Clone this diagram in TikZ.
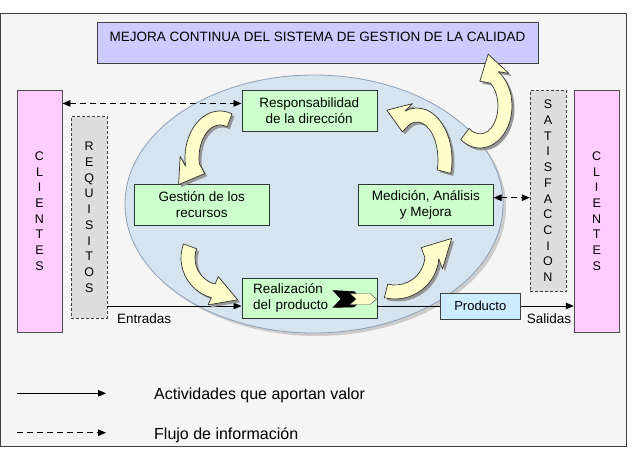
\documentclass[tikz,border=0pt]{standalone}
\usepackage{fontspec}
\setmainfont{Liberation Sans}
\usetikzlibrary{arrows.meta,calc,positioning}

\definecolor{bgcol}{RGB}{245,245,245}
\definecolor{lavcol}{RGB}{204,204,255}
\definecolor{pinkcol}{RGB}{255,204,255}
\definecolor{greencol}{RGB}{204,255,204}
\definecolor{bluecol}{RGB}{204,236,255}
\definecolor{ellcol}{RGB}{214,228,240}
\definecolor{ellline}{RGB}{140,160,185}
\definecolor{yelcol}{RGB}{255,255,204}
\definecolor{reqcol}{RGB}{221,221,221}
\definecolor{shadowcol}{RGB}{150,150,150}

\newcommand{\boxfont}{\fontsize{13.5}{16}\selectfont}
\newcommand{\letterfont}{\fontsize{12.5}{15.7}\selectfont}

% curved block arrow: centre, rx, ry, from angle, to angle, head angle, head length
\newcommand{\bendarrow}[7]{%
  \pgfmathsetmacro{\bendsg}{(#5>#4)?1:-1}%
  \pgfmathsetmacro{\bendba}{#6-\bendsg*90}%
  \pgfmathsetmacro{\bendbb}{#6+\bendsg*90}%
  \pgfmathsetmacro{\bendxo}{#2+7}\pgfmathsetmacro{\bendyo}{#3+7}%
  \pgfmathsetmacro{\bendxi}{#2-7}\pgfmathsetmacro{\bendyi}{#3-7}%
  \def\bendpath{($(#1)+(#4:{\bendxo} and {\bendyo})$)
    arc[start angle=#4, end angle=#5, x radius=\bendxo, y radius=\bendyo]
    -- ($(#1)+(#5:#2 and #3)+(\bendba:15)$)
    -- ($(#1)+(#5:#2 and #3)+(#6:#7)$)
    -- ($(#1)+(#5:#2 and #3)+(\bendbb:15)$)
    -- ($(#1)+(#5:{\bendxi} and {\bendyi})$)
    arc[start angle=#5, end angle=#4, x radius=\bendxi, y radius=\bendyi] -- cycle}%
  \begin{scope}[transform canvas={xshift=2.5pt, yshift=-2.5pt}]
    \fill[shadowcol] \bendpath;
  \end{scope}
  \draw[curvearrow] \bendpath;
}

\begin{document}
\begin{tikzpicture}[
    x=1pt, y=1pt,
    tri/.tip={Triangle[length=8pt, width=6.5pt]},
    frame/.style={draw=black!75, fill=bgcol, line width=0.8pt},
    titlebox/.style={rectangle, draw=black!75, fill=lavcol, minimum width=441pt, minimum height=40.3pt, inner sep=0pt},
    clientbox/.style={rectangle, draw=black!70, fill=pinkcol, minimum width=45.5pt, minimum height=242pt, inner sep=0pt, align=center, font=\letterfont},
    sidebox/.style={rectangle, draw=black!75, dash pattern=on 3pt off 2pt, fill=reqcol, minimum width=36pt, minimum height=201.5pt, inner sep=0pt, align=center, font=\letterfont},
    process/.style={rectangle, draw=black!80, fill=greencol, minimum width=135pt, minimum height=40.7pt, inner sep=0pt, align=center, font=\boxfont},
    outbox/.style={rectangle, draw=black!75, fill=bluecol, minimum width=80.7pt, minimum height=26.6pt, inner sep=0pt, font=\fontsize{13}{15}\selectfont},
    valueline/.style={line width=0.9pt, -tri},
    infoline/.style={line width=0.9pt, dash pattern=on 6pt off 4pt},
    lbl/.style={inner sep=0pt, font=\boxfont},
    legendtxt/.style={inner sep=0pt, anchor=west, font=\fontsize{16}{19}\selectfont},
    curvearrow/.style={fill=yelcol, draw=black!80, line width=0.7pt, line join=round},
]

\useasboundingbox (0,0) rectangle (636,448);
\fill[white] (0,0) rectangle (636,448);

% ---- frame and title ----
\draw[frame] (0.5,2) rectangle (626,434.7);
\node[titlebox] (mejora) at (317.5,405.2) {};
\node[inner sep=0pt, font=\boxfont, anchor=north] (mejoratxt) at ([yshift=-9.3pt]mejora.north)
    {MEJORA CONTINUA DEL SISTEMA DE GESTION DE LA CALIDAD};

% ---- process ellipse ----
\fill[gray!40] (317,241) ellipse [x radius=189, y radius=129];
\filldraw[fill=ellcol, draw=ellline, line width=0.8pt] (314,244) ellipse [x radius=189, y radius=129];

% ---- clients and side boxes ----
\node[clientbox] (clientesL) at (39.5,237) {C\\L\\I\\E\\N\\T\\E\\S};
\node[sidebox] (requisitos) at (89.2,230.7) {R\\E\\Q\\U\\I\\S\\I\\T\\O\\S};
\node[sidebox] (satisfaccion) at (548,257.2) {S\\A\\T\\I\\S\\F\\A\\C\\C\\I\\O\\N};
\node[clientbox] (clientesR) at (596.7,237) {C\\L\\I\\E\\N\\T\\E\\S};

% ---- processes ----
\node[process] (responsabilidad) at (309.2,337.6) {Responsabilidad\\de la dirección};
\node[process] (gestion) at (201.7,243.3) {Gestión de los\\recursos};
\node[process] (medicion) at (425.8,243.3) {Medición, Análisis\\y Mejora};
\node[process, text width=112pt, align=left] (realizacion) at (309.2,149.7) {Realización\\del producto};
\node[outbox] (producto) at (480.3,142) {Producto};

% ---- value chain ----
\draw[valueline] (requisitos.east |- producto) -- (realizacion.west |- producto);
\draw[line width=0.9pt] (realizacion.east |- producto) -- (producto.west);
\draw[valueline] (producto.east) -- (clientesR.west |- producto);
\node[lbl, anchor=west] (entradas) at (117,129) {Entradas};
\node[lbl] (salidas) at (549,129) {Salidas};

% ---- information flow ----
\coordinate (rtop) at ([yshift=7pt]responsabilidad.west);
\draw[infoline, tri-tri] (clientesL.east |- rtop) -- (rtop);
\coordinate (mtop) at ([yshift=7pt]medicion.east);
\draw[infoline, tri-tri] (mtop) -- (satisfaccion.west |- mtop);

% ---- cycle arrows ----
\bendarrow{220,290}{28}{40}{70}{190}{235}{24}
\bendarrow{222,190}{34}{34}{160}{255}{340}{26}
\bendarrow{395,193}{37}{37}{256}{355}{45}{28}
\bendarrow{417,288}{28}{45}{-15}{110}{160}{22}
\bendarrow{480,342}{25}{35}{233}{415}{105}{24}

% ---- chevron in realizacion ----
\filldraw[fill=black, draw=black] (333,157.5) -- (354,156.5) -- (362,149) -- (354,141)
    -- (333,140.5) -- (341,149) -- cycle;
\filldraw[fill=yelcol, draw=black!70] (350,154.5) -- (370,154.5) -- (376.5,149) -- (370,143.5)
    -- (350,143.5) -- (356,149) -- cycle;

% ---- legend ----
\coordinate (solidA) at (16.7,54.7);
\coordinate (solidB) at (106,54.7);
\draw[valueline] (solidA) -- (solidB);
\node[legendtxt] (valortxt) at (154,53) {Actividades que aportan valor};
\coordinate (dashA) at (16.7,15.3);
\coordinate (dashB) at (106,15.3);
\draw[infoline, -tri] (dashA) -- (dashB);
\node[legendtxt] (infotxt) at (154,13) {Flujo de información};

\end{tikzpicture}
\end{document}
